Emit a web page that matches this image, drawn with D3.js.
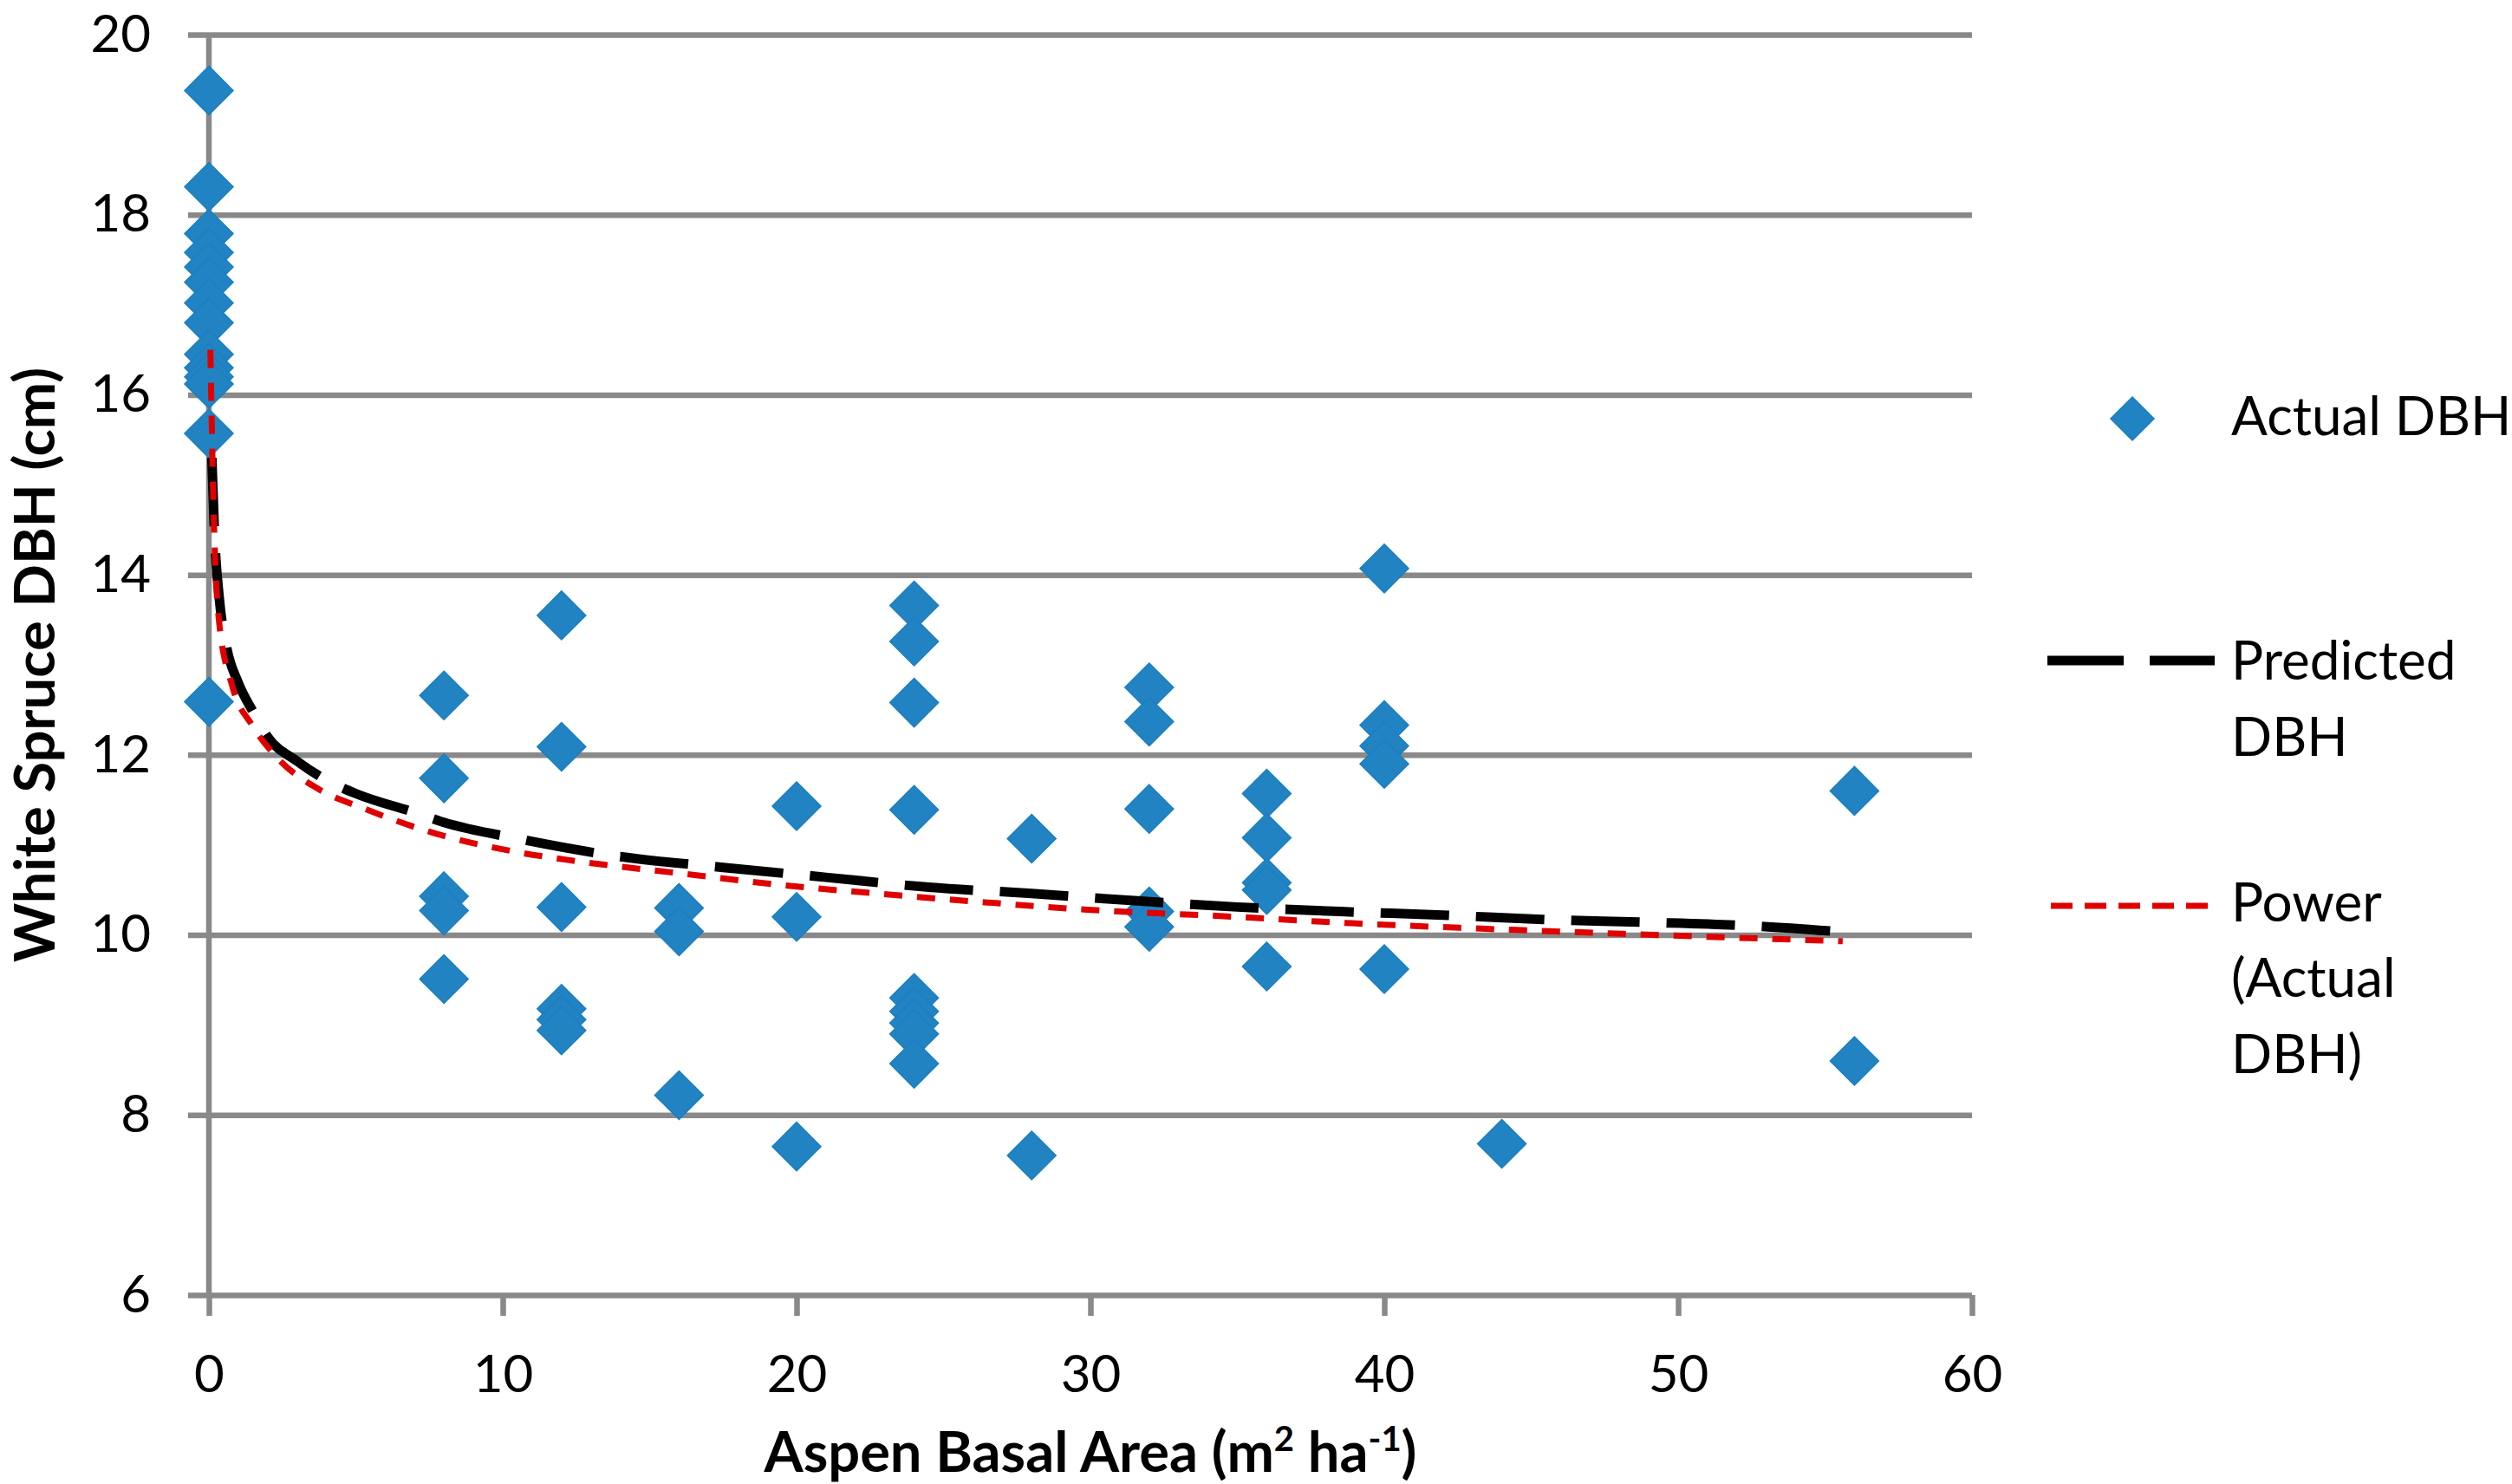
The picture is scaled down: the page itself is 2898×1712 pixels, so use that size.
<!DOCTYPE html>
<html>
<head>
<meta charset="utf-8">
<script src="https://cdn.jsdelivr.net/npm/d3@7"></script>
<style>
  body { margin: 0; background: #fff; }
  svg { display: block; }
  text { font-family: Lato, "Open Sans", sans-serif; fill: #000; }
</style>
</head>
<body>
<svg id="chart" width="2898" height="1712"></svg>
<script>
// Actual DBH, grouped by aspen basal area
var plotBA = [0, 8, 12, 16, 20, 24, 28, 32, 36, 40, 44, 56];
var plotDBH = [
  [19.38, 18.31, 17.79, 17.58, 17.42, 17.25, 17.02, 16.8, 16.45, 16.3, 16.2, 16.12, 15.57, 12.59],
  [12.66, 11.74, 10.43, 10.27, 9.51],
  [13.55, 12.09, 10.31, 9.18, 9.06, 8.94],
  [10.3, 10.04, 8.22],
  [11.43, 10.2, 7.65],
  [13.66, 13.26, 12.58, 11.39, 9.3, 9.15, 9.02, 8.9, 8.57],
  [11.07, 7.55],
  [12.75, 12.37, 11.4, 10.26, 10.09],
  [11.57, 11.08, 10.58, 10.5, 9.65],
  [14.07, 12.33, 12.1, 11.9, 9.62],
  [7.68],
  [11.6, 8.6]
];

// Predicted DBH curve
var predBA  = [0.1, 0.2, 0.35, 0.6, 1.0, 1.5, 2.0, 3.0, 4.0, 5.0, 7.0, 8.0, 10.5, 14, 17.5, 21, 24.5, 28, 31.5, 35, 38.5, 42, 45.5, 49, 52.5, 55.3];
var predDBH = [15.3, 14.4, 13.75, 13.2, 12.8, 12.48, 12.2, 11.93, 11.72, 11.57, 11.36, 11.25, 11.07, 10.87, 10.75, 10.64, 10.53, 10.46, 10.38, 10.31, 10.26, 10.22, 10.17, 10.14, 10.1, 10.04];

// Power trendline (Actual DBH)
var powerBA  = [0.05, 0.17, 0.34, 0.79, 1.47, 2.26, 3.73, 5.31, 7.57, 10.5, 12.5, 16.13, 19.6, 22.74, 26.5, 29.9, 34.4, 38.9, 43.3, 49.2, 55.6];
var powerDBH = [16.5, 14.6, 13.5, 12.77, 12.33, 11.99, 11.62, 11.4, 11.14, 10.92, 10.82, 10.68, 10.55, 10.46, 10.36, 10.28, 10.21, 10.13, 10.07, 10.0, 9.93];

var xTicks = [0, 10, 20, 30, 40, 50, 60];
var yTicks = [6, 8, 10, 12, 14, 16, 18, 20];

var pLeft = 241, pRight = 2275, pTop = 40, pBottom = 1494;
var gridColor = '#898989';
var blue = '#2283c3';

var svg = d3.select('#chart');

var x = d3.scaleLinear().domain([0, 60]).range([pLeft, pRight]);
var y = d3.scaleLinear().domain([6, 20]).range([pBottom, pTop]);

// horizontal gridlines, including the outside tick
svg.append('g')
  .attr('transform', `translate(${pRight},0)`)
  .call(d3.axisLeft(y).tickValues(yTicks).tickSize(pRight - pLeft + 24).tickFormat(''))
  .call(g => g.select('.domain').remove())
  .call(g => g.selectAll('line').attr('stroke', gridColor).attr('stroke-width', 6.5));

// y labels
svg.append('g')
  .attr('transform', `translate(${pLeft},0)`)
  .call(d3.axisLeft(y).tickValues(yTicks).tickSize(0).tickPadding(67))
  .call(g => g.select('.domain').remove())
  .call(g => g.selectAll('text').attr('font-size', 60).attr('font-family', 'Lato').attr('fill', '#000'));

// x axis ticks and labels
svg.append('g')
  .attr('transform', `translate(0,${pBottom})`)
  .call(d3.axisBottom(x).tickValues(xTicks).tickSize(24).tickPadding(45))
  .call(g => g.select('.domain').remove())
  .call(g => g.selectAll('line').attr('stroke', gridColor).attr('stroke-width', 6.5))
  .call(g => g.selectAll('text').attr('font-size', 60).attr('font-family', 'Lato').attr('fill', '#000'));

// y axis line
svg.append('line')
  .attr('x1', x(0)).attr('x2', x(0))
  .attr('y1', y(20)).attr('y2', y(6))
  .attr('stroke', gridColor).attr('stroke-width', 6.5);

// diamonds
var pts = [];
plotBA.forEach((ba, i) => plotDBH[i].forEach(v => pts.push([ba, v])));

var r = 28;
svg.append('g').selectAll('path')
  .data(pts)
  .join('path')
  .attr('d', d => {
    var cx = x(d[0]), cy = y(d[1]);
    return `M${cx},${cy - r}L${cx + r},${cy}L${cx},${cy + r}L${cx - r},${cy}Z`;
  })
  .attr('fill', blue)
  .attr('stroke', '#1a7fc0')
  .attr('stroke-width', 1.5);

// curves
var line = d3.line().curve(d3.curveMonotoneX);

svg.append('path')
  .attr('d', line(predBA.map((v, i) => [x(v), y(predDBH[i])])))
  .attr('fill', 'none')
  .attr('stroke', '#000')
  .attr('stroke-width', 11)
  .attr('stroke-dasharray', '79,31');

svg.append('path')
  .attr('d', line(powerBA.map((v, i) => [x(v), y(powerDBH[i])])))
  .attr('fill', 'none')
  .attr('stroke', '#e00000')
  .attr('stroke-width', 7)
  .attr('stroke-dasharray', '21,17');

// axis titles
svg.append('text')
  .attr('x', (pLeft + pRight) / 2)
  .attr('y', 1698)
  .attr('text-anchor', 'middle')
  .attr('font-size', 65)
  .attr('font-weight', 'bold')
  .html('Aspen Basal Area (m<tspan dy="-24" font-size="40">2</tspan><tspan dy="24"> ha</tspan><tspan dy="-24" font-size="40">-1</tspan><tspan dy="24">)</tspan>');

svg.append('text')
  .attr('transform', `translate(63,${(pTop + pBottom) / 2}) rotate(-90)`)
  .attr('text-anchor', 'middle')
  .attr('font-size', 65)
  .attr('font-weight', 'bold')
  .text('White Spruce DBH (cm)');

// legend
var lg = svg.append('g').attr('font-size', 62);
var lr = 25;
lg.append('path')
  .attr('d', `M2460,${483 - lr}L${2460 + lr},483L2460,${483 + lr}L${2460 - lr},483Z`)
  .attr('fill', blue).attr('stroke', '#1a7fc0').attr('stroke-width', 1.5);
lg.append('text').attr('x', 2574).attr('y', 502).text('Actual DBH');

lg.append('line')
  .attr('x1', 2362).attr('x2', 2555).attr('y1', 762).attr('y2', 762)
  .attr('stroke', '#000').attr('stroke-width', 11).attr('stroke-dasharray', '88,30');
lg.append('text').attr('x', 2574).attr('y', 784).text('Predicted');
lg.append('text').attr('x', 2574).attr('y', 872).text('DBH');

lg.append('line')
  .attr('x1', 2366).attr('x2', 2548).attr('y1', 1045).attr('y2', 1045)
  .attr('stroke', '#e00000').attr('stroke-width', 7).attr('stroke-dasharray', '25,14');
lg.append('text').attr('x', 2574).attr('y', 1063).text('Power');
lg.append('text').attr('x', 2574).attr('y', 1150).text('(Actual');
lg.append('text').attr('x', 2574).attr('y', 1238).text('DBH)');
</script>
</body>
</html>
